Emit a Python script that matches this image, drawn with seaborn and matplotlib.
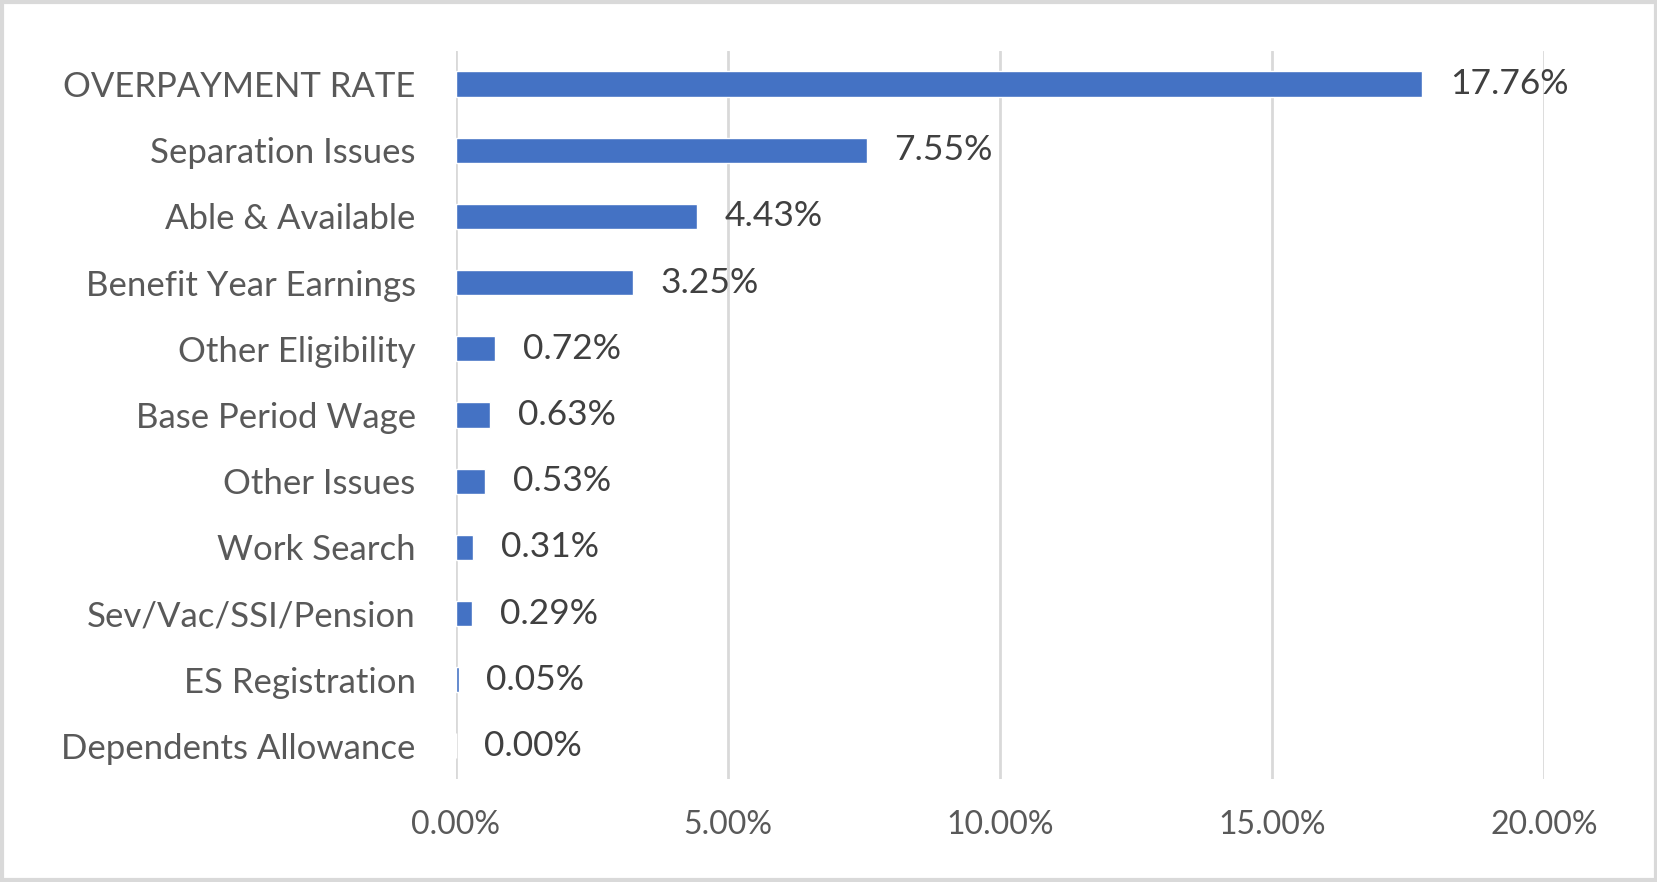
import matplotlib
matplotlib.use("Agg")
import matplotlib.pyplot as plt
import seaborn as sns
import pandas as pd
from matplotlib.ticker import FuncFormatter

# Dados do gráfico
categorias = ['OVERPAYMENT RATE', 'Separation Issues', 'Able & Available',
              'Benefit Year Earnings', 'Other Eligibility', 'Base Period Wage',
              'Other Issues', 'Work Search', 'Sev/Vac/SSI/Pension',
              'ES Registration', 'Dependents Allowance']
taxas = [17.76, 7.55, 4.43, 3.25, 0.72, 0.63, 0.53, 0.31, 0.29, 0.05, 0.00]
ticks_x = [0, 5, 10, 15, 20]

df = pd.DataFrame({'Categoria': categorias, 'Taxa': taxas})

sns.set_style('white')
plt.rcParams['font.family'] = ['Lato', 'DejaVu Sans']

fig = plt.figure(figsize=(16.58, 8.82), dpi=100)
ax = fig.add_axes([0.275, 0.1168, 0.6562, 0.8254])

sns.barplot(data=df, x='Taxa', y='Categoria', color='#4472C4', width=0.38,
            saturation=1, ax=ax, zorder=3)

# Rótulos de valor
ax.bar_label(ax.containers[0], labels=['{:.2f}%'.format(v) for v in taxas],
             padding=20, fontsize=25.5, color='#404040')

ax.set_xlim(0, 20)
ax.set_xticks(ticks_x)
ax.xaxis.set_major_formatter(FuncFormatter(lambda v, p: '{:.2f}%'.format(v)))
ax.grid(axis='x', color='#D9D9D9', linewidth=2, zorder=0)
ax.grid(axis='y', visible=False)
for s in ax.spines.values():
    s.set_visible(False)
ax.tick_params(axis='x', length=0, pad=22, labelsize=23, labelcolor='#595959')
ax.tick_params(axis='y', length=0, pad=29, labelsize=25, labelcolor='#595959')
ax.set_xlabel('')
ax.set_ylabel('')

# Moldura do gráfico
fig.patches.append(plt.Rectangle((0.001, 0.002), 0.998, 0.996, transform=fig.transFigure,
                                 fill=False, edgecolor='#D9D9D9', linewidth=3))

fig.savefig('out.png', dpi=100)
